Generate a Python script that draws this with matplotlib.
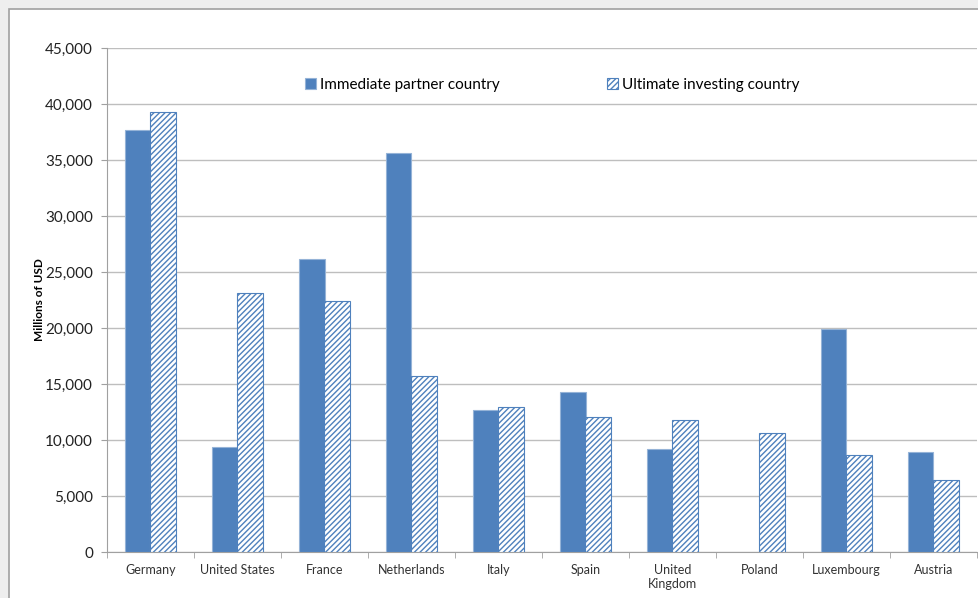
import numpy as np
import matplotlib
matplotlib.use('Agg')
import matplotlib.pyplot as plt
from matplotlib.patches import Rectangle
from matplotlib.ticker import FuncFormatter

# Data (millions of USD)
countries = ['Germany', 'United States', 'France', 'Netherlands', 'Italy',
             'Spain', 'United\nKingdom', 'Poland', 'Luxembourg', 'Austria']
immediate = [37700, 9400, 26200, 35600, 12700, 14300, 9200, 0, 19900, 8950]
ultimate = [39300, 23100, 22400, 15700, 12950, 12050, 11800, 10600, 8700, 6400]

blue = '#4F81BD'
plt.rcParams['font.family'] = ['Lato', 'DejaVu Sans']
plt.rcParams['hatch.linewidth'] = 1.0

fig = plt.figure(figsize=(9.79, 5.98), dpi=100, facecolor='#EEEEEE')
# white chart frame like the screenshot
fig.patches.append(Rectangle((9 / 979, -0.01), 1.0, 1 - 9 / 598 + 0.01,
                             transform=fig.transFigure, facecolor='white',
                             edgecolor='#A0A0A0', linewidth=1.2, zorder=-5))

ax = fig.add_axes([107 / 979, 1 - 552 / 598, 870 / 979, 504 / 598])
ax.set_facecolor('none')
ax.set_zorder(2)

x = np.arange(len(countries))
w = 0.29
imm = np.array(immediate, dtype=float)
imm[imm == 0] = np.nan
ax.bar(x - w / 2, imm, w, color=blue, edgecolor='#95B3D7', linewidth=0.8,
       label='Immediate partner country', zorder=3)
ax.bar(x + w / 2, ultimate, w, color='white', edgecolor=blue, hatch='//////',
       linewidth=0.8, label='Ultimate investing country', zorder=3)

ax.set_xlim(-0.5, len(countries) - 0.5)
ax.set_ylim(0, 45000)
ax.set_yticks(np.arange(0, 45001, 5000))
ax.yaxis.set_major_formatter(FuncFormatter(lambda v, p: f'{int(v):,}'))
ax.grid(axis='y', color='#BEBEBE', linewidth=1.0, zorder=0)

ax.set_xticks(x)
ax.set_xticklabels(countries, fontsize=9, color='#333333')
ax.set_xticks(np.arange(-0.5, len(countries), 1), minor=True)
ax.tick_params(axis='x', which='major', length=0, pad=9)
ax.tick_params(axis='x', which='minor', length=4, color='#A0A0A0')
ax.tick_params(axis='y', length=4, color='#A0A0A0', labelsize=11,
               labelcolor='#222222', pad=6)

for s in ['top', 'right']:
    ax.spines[s].set_visible(False)
for s in ['left', 'bottom']:
    ax.spines[s].set_color('#A0A0A0')

ax.set_ylabel('Millions of USD', fontsize=8.5, fontweight='bold', labelpad=0)

ax.legend(loc='center', bbox_to_anchor=(0.512, 0.927), ncol=2,
          frameon=False, fontsize=11, handlelength=0.7, handleheight=0.7,
          handletextpad=0.3, columnspacing=7.0)

fig.savefig('out.png', dpi=100, facecolor=fig.get_facecolor())
